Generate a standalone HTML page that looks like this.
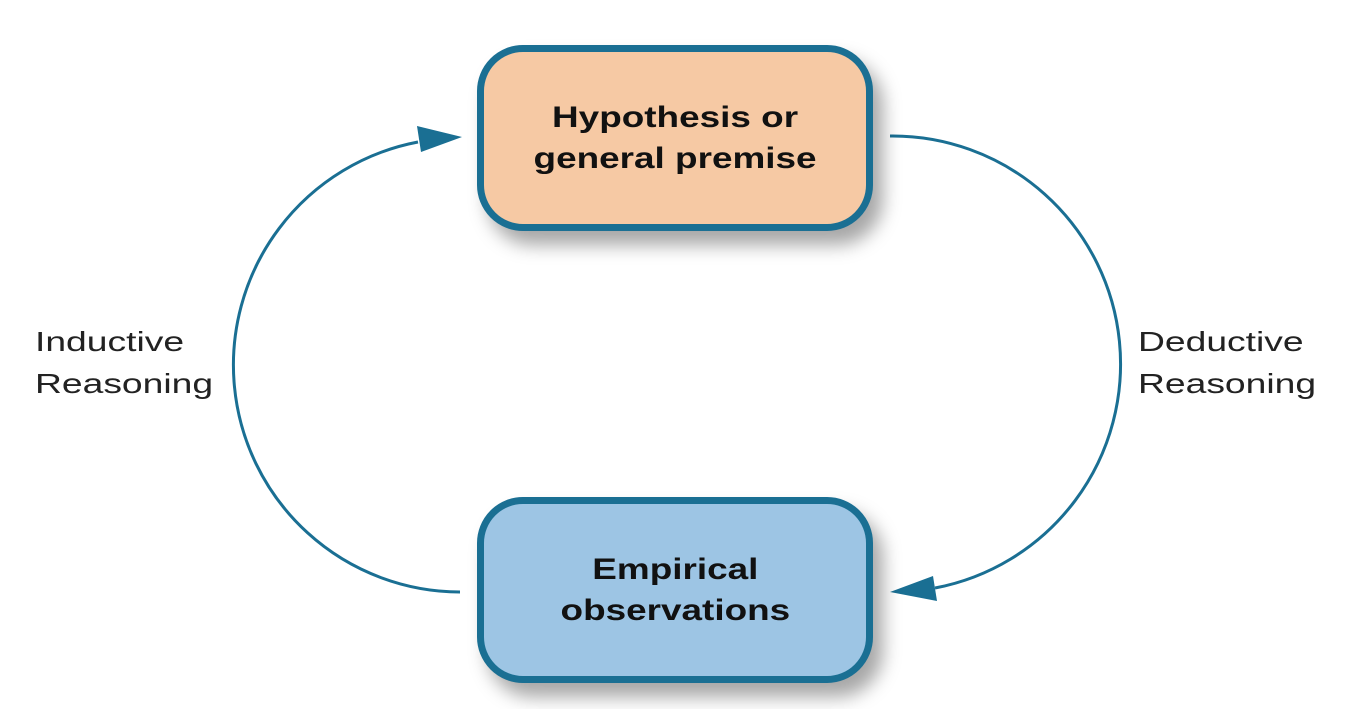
<!DOCTYPE html>
<html><head><meta charset="utf-8"><style>
html,body{margin:0;padding:0;background:#fff;}
body{width:1350px;height:709px;position:relative;overflow:hidden;font-family:"Liberation Sans",Arial,sans-serif;}
.box{position:absolute;left:477px;width:396px;height:186px;box-sizing:border-box;border:7px solid #1a6f93;border-radius:46px;display:flex;align-items:center;justify-content:center;text-align:center;font-weight:bold;font-size:30px;line-height:41px;color:#111;box-shadow:10px 14px 18px rgba(0,0,0,0.35);}
.box span{display:inline-block;transform:scaleX(1.23);}
.lbl{position:absolute;font-size:28px;line-height:42px;color:#222;transform:scaleX(1.33);transform-origin:0 0;}
</style></head><body>
<svg width="1350" height="709" style="position:absolute;left:0;top:0">
<path d="M460,592 A227,227 0 0 1 418,142" fill="none" stroke="#1a6f93" stroke-width="3"/>
<polygon points="462,137 417,126 421,152" fill="#1a6f93"/>
<path d="M890,136 A228,228 0 0 1 935,588" fill="none" stroke="#1a6f93" stroke-width="3"/>
<polygon points="890,592 933,576 937,601" fill="#1a6f93"/>
</svg>
<div class="box" style="top:45px;background:#f6c9a4;"><span>Hypothesis or<br>general premise</span></div>
<div class="box" style="top:497px;background:#9dc5e4;"><span>Empirical<br>observations</span></div>
<div class="lbl" style="left:35px;top:321px;">Inductive<br>Reasoning</div>
<div class="lbl" style="left:1138px;top:321px;">Deductive<br>Reasoning</div>
</body></html>
